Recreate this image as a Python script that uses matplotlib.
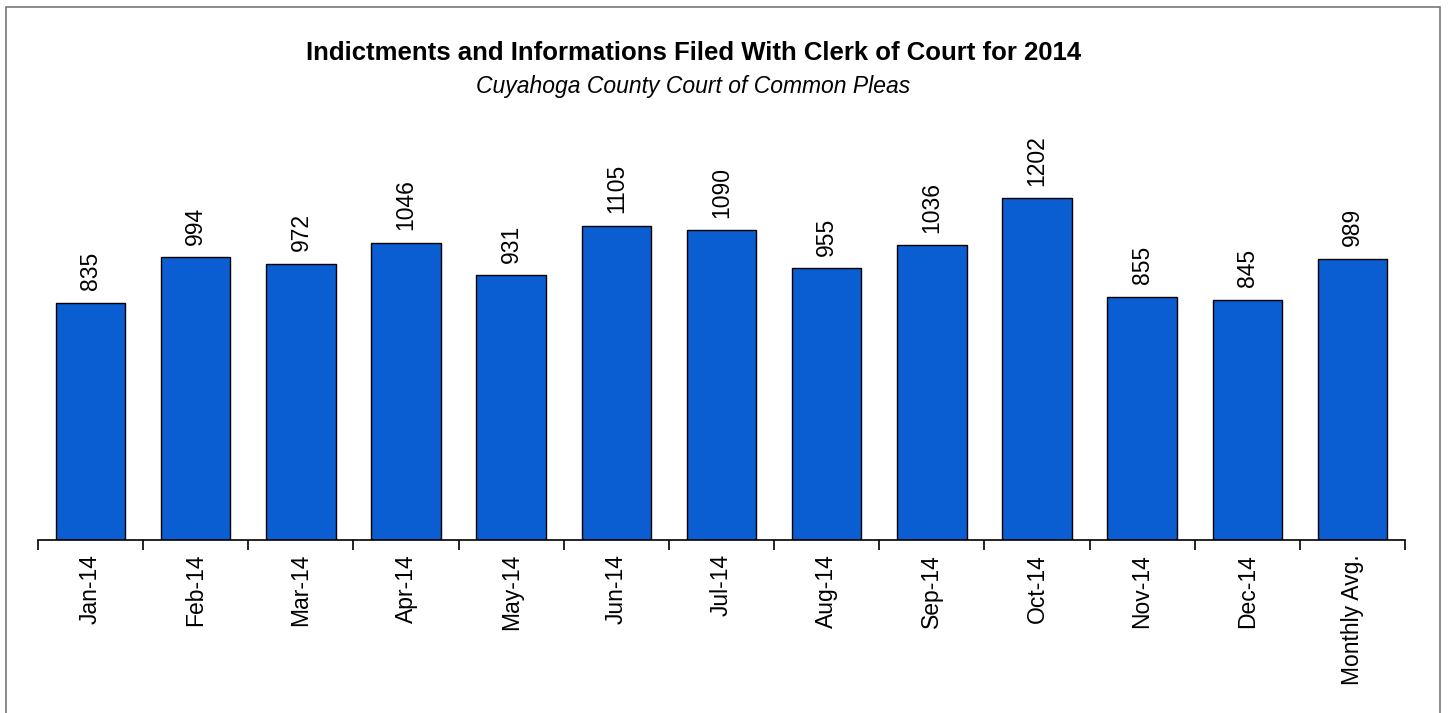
#!/usr/bin/env python3
"""Indictments and Informations filed, 2014 - bar chart recreation."""
import numpy as np
import matplotlib
matplotlib.use("Agg")
import matplotlib.pyplot as plt
from matplotlib.patches import Rectangle

# === Data ===
months = ["Jan-14", "Feb-14", "Mar-14", "Apr-14", "May-14", "Jun-14", "Jul-14",
          "Aug-14", "Sep-14", "Oct-14", "Nov-14", "Dec-14", "Monthly Avg."]
filings = [835, 994, 972, 1046, 931, 1105, 1090, 955, 1036, 1202, 855, 845, 989]

plt.rcParams["font.family"] = ["Liberation Sans", "DejaVu Sans"]

W, H = 1450, 713
fig = plt.figure(figsize=(W / 100, H / 100), dpi=100)

# outer frame
fig.patches.append(Rectangle((6 / W, -0.01), 1434 / W, (H - 7) / H + 0.01,
                             transform=fig.transFigure, fill=False,
                             edgecolor="#777777", lw=1.2))

ax = fig.add_axes([38 / W, 173 / H, 1367 / W, 400 / H])
x = np.arange(len(months))
ax.bar(x, filings, width=0.66, color="#0b5dd2", edgecolor="black", lw=1.0)

for xi, v in zip(x, filings):
    ax.annotate(str(v), (xi, v), xytext=(0, 9), textcoords="offset points",
                rotation=90, ha="center", va="bottom", fontsize=16.5)

ax.set_xlim(-0.5, len(months) - 0.5)
ax.set_ylim(0, 400 / 0.2843)
for s in ["top", "right", "left"]:
    ax.spines[s].set_visible(False)
ax.spines["bottom"].set_linewidth(1.2)
ax.set_yticks([])

# ticks between categories, labels at bar centres
ax.set_xticks(np.arange(-0.5, len(months)), minor=False)
ax.set_xticklabels([])
ax.tick_params(axis="x", which="major", length=7, width=1.2, direction="out")
ax.set_xticks(x, minor=True)
ax.set_xticklabels(months, minor=True, rotation=90, fontsize=16.5)
ax.tick_params(axis="x", which="minor", length=0, pad=10)

fig.text(0.478, 1 - 53 / H, "Indictments and Informations Filed With Clerk of Court for 2014",
         ha="center", va="center", fontsize=18.5, fontweight="bold")
fig.text(0.478, 1 - 86 / H, "Cuyahoga County Court of Common Pleas",
         ha="center", va="center", fontsize=16.5, style="italic")

fig.savefig("out.png", dpi=100)
